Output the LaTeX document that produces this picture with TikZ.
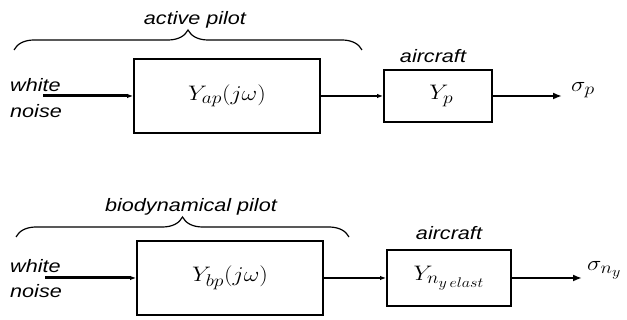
\RequirePackage{fix-cm}
\documentclass[tikz,border=0pt]{standalone}
\usepackage{fontspec}
\newfontfamily\lblfont[FakeStretch=1.2]{Liberation Sans}
\usetikzlibrary{arrows.meta,positioning,decorations.pathreplacing}
\DeclareMathSizes{21}{21}{17}{14}
\newcommand{\wide}[1]{\scalebox{1.15}[1]{#1}}

\begin{document}
\begin{tikzpicture}[
  x=1pt, y=-1pt, line join=miter,
  block/.style={draw, line width=1.8pt, inner sep=0pt, font=\fontsize{21}{23}\selectfont},
  lbl/.style={font=\lblfont\itshape\fontsize{18}{20}\selectfont, inner sep=0pt},
  outlbl/.style={font=\fontsize{21}{23}\selectfont, inner sep=0pt, anchor=west},
  sig/.style={-{Latex[length=6pt,width=4.5pt]}, line width=1.6pt},
  sigin/.style={-{Latex[length=6pt,width=4.5pt]}, line width=3pt},
  sigout/.style={-{Latex[length=9pt,width=7pt]}, line width=2.6pt},
  brc/.style={decorate, decoration={brace, amplitude=20pt}, line width=1.2pt},
]
\useasboundingbox (0,0) rectangle (627,320);

% ---- active pilot loop (top) ----
\node[block, minimum width=186pt, minimum height=74pt] (Yap) at (227,96) {\wide{$Y_{ap}(j\omega)$}};
\node[block, minimum width=108pt, minimum height=52pt] (Yp) at (438,96) {\wide{$\;Y_p$}};
\node[lbl, anchor=base] (act) at (195,25) {active pilot};
\node[lbl, anchor=base] (ac1) at (433,63) {aircraft};
\node[lbl, anchor=base west] (wh1) at (10,92) {white};
\node[lbl, anchor=base west] (no1) at (10,118) {noise};
\node[outlbl] (sp) at (571,90) {\wide{$\sigma_p$}};
\coordinate (in1) at (43,96);
\coordinate (out1) at (562,96);
\coordinate (bl1) at (14,50);
\coordinate (br1) at (362,50);

\draw[brc] (bl1) -- (br1);
\draw[sigin] (in1) -- (Yap);
\draw[sig] (Yap) -- (Yp);
\draw[sigout] (Yp) -- (out1);

% ---- biodynamical pilot loop (bottom) ----
\node[block, minimum width=186pt, minimum height=74pt] (Ybp) at (230,278) {\wide{$Y_{bp}(j\omega)$}};
\node[block, minimum width=124pt, minimum height=56pt] (Yny) at (449,278) {\wide{$Y_{n_{y\,elast}}$}};
\node[lbl, anchor=base] (bio) at (191,212) {biodynamical pilot};
\node[lbl, anchor=base] (ac2) at (449,240) {aircraft};
\node[lbl, anchor=base west] (wh2) at (10,273) {white};
\node[lbl, anchor=base west] (no2) at (10,298) {noise};
\node[outlbl] (sny) at (587,270) {\wide{$\sigma_{n_y}$}};
\coordinate (in2) at (45,278);
\coordinate (out2) at (582,278);
\coordinate (bl2) at (16,237);
\coordinate (br2) at (349,237);

\draw[brc] (bl2) -- (br2);
\draw[sigin] (in2) -- (Ybp);
\draw[sig] (Ybp) -- (Yny);
\draw[sigout] (Yny) -- (out2);
\end{tikzpicture}
\end{document}
